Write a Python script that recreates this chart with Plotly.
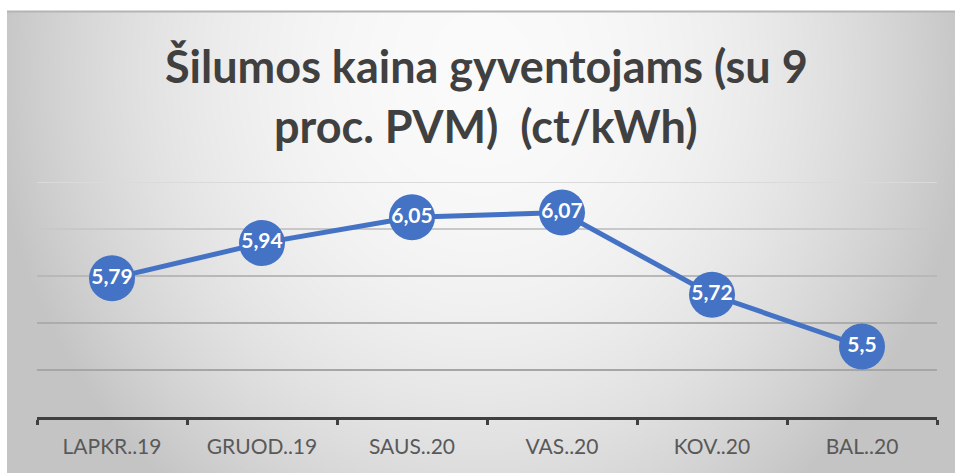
import plotly.graph_objects as go

# ---- data ----
categories = ["LAPKR..19", "GRUOD..19", "SAUS..20", "VAS..20", "KOV..20", "BAL..20"]
values = [5.79, 5.94, 6.05, 6.07, 5.72, 5.5]
y_ticks = [5.2, 5.4, 5.6, 5.8, 6.0, 6.2]
title_line1 = "Šilumos kaina gyventojams (su 9"
title_line2 = "proc. PVM)\u00a0\u00a0(ct/kWh)"

labels = [f"{v:g}".replace(".", ",") for v in values]

# ---- layout geometry (pixels) ----
W, H = 955, 473
L, R, T, B = 37, 937, 182, 417
PW, PH = R - L, B - T


def xp(px):
    return (px - L) / PW


def yp(py):
    return (B - py) / PH


def grey(b):
    b = int(round(b))
    return f"rgb({b},{b},{b})"


shapes = []
# frame background (edge colour)
FX0, FY0 = 7, 11
shapes.append(dict(type="rect", xref="paper", yref="paper", layer="below",
                   x0=xp(FX0), x1=xp(W + 5), y0=yp(FY0), y1=yp(H + 5),
                   fillcolor=grey(196), line=dict(width=0)))
# radial gradient approximated by concentric ellipses
CX, CY, RX, RY = 481, 70, 490, 540
for b in range(197, 251):
    r = ((250.5 - b) / 54.0) ** (1 / 2.1)
    shapes.append(dict(type="circle", xref="paper", yref="paper", layer="below",
                       x0=xp(CX - r * RX), x1=xp(CX + r * RX),
                       y0=yp(CY + r * RY), y1=yp(CY - r * RY),
                       fillcolor=grey(b), line=dict(width=0)))
# white margins outside the chart frame
shapes.append(dict(type="rect", xref="paper", yref="paper", layer="below",
                   x0=xp(-5), x1=xp(W + 5), y0=yp(FY0), y1=yp(-600),
                   fillcolor="white", line=dict(width=0)))
shapes.append(dict(type="rect", xref="paper", yref="paper", layer="below",
                   x0=xp(-5), x1=xp(FX0), y0=yp(H + 5), y1=yp(-5),
                   fillcolor="white", line=dict(width=0)))
shapes.append(dict(type="line", xref="paper", yref="paper", layer="below",
                   x0=xp(FX0), x1=xp(W + 5), y0=yp(FY0 + 0.5), y1=yp(FY0 + 0.5),
                   line=dict(color="rgb(180,180,180)", width=2)))
# gridlines (colour darkens toward the bottom)
grid_colors = {5.4: "rgb(166,166,166)", 5.6: "rgb(172,172,172)", 5.8: "rgb(184,184,184)",
               6.0: "rgb(200,200,200)", 6.2: "rgb(218,218,218)"}
for t in y_ticks[1:]:
    shapes.append(dict(type="line", xref="paper", yref="y", layer="below",
                       x0=0, x1=1, y0=t, y1=t,
                       line=dict(color=grid_colors[t], width=2)))

fig = go.Figure()
fig.add_trace(go.Scatter(
    x=categories, y=values, mode="lines+markers+text",
    line=dict(color="#4472C4", width=5),
    marker=dict(color="#4472C4", size=46, line=dict(width=0)),
    text=labels, textposition="middle center",
    textfont=dict(family="Lato", size=21, color="white", weight="bold"),
    cliponaxis=False, hoverinfo="skip",
))

annotations = [
    dict(text=title_line1, xref="paper", yref="paper", x=xp(486), y=yp(66),
         xanchor="center", yanchor="middle", showarrow=False,
         font=dict(family="Lato", size=45, color="#404040", weight="bold")),
    dict(text=title_line2, xref="paper", yref="paper", x=xp(486), y=yp(126),
         xanchor="center", yanchor="middle", showarrow=False,
         font=dict(family="Lato", size=45, color="#404040", weight="bold")),
]

fig.update_layout(
    width=W, height=H,
    margin=dict(l=L, r=W - R, t=T, b=H - B, pad=0),
    paper_bgcolor="white", plot_bgcolor="rgba(0,0,0,0)",
    showlegend=False, shapes=shapes, annotations=annotations,
    xaxis=dict(type="category", range=[-0.5, len(categories) - 0.5],
               showgrid=False, zeroline=False,
               showline=True, linecolor="#404040", linewidth=3,
               ticks="outside", tickson="boundaries", ticklen=5, tickwidth=3,
               tickcolor="#404040",
               tickfont=dict(family="Lato", size=21, color="#595959"),
               ticklabelstandoff=9, fixedrange=True),
    yaxis=dict(range=[y_ticks[0], y_ticks[-1]], tickvals=y_ticks,
               showgrid=False, zeroline=False, showticklabels=False,
               showline=False, fixedrange=True),
)

fig.write_html("out.html", config={"displayModeBar": False, "staticPlot": True},
               post_script="document.body.style.margin='0';document.body.style.padding='0';")
